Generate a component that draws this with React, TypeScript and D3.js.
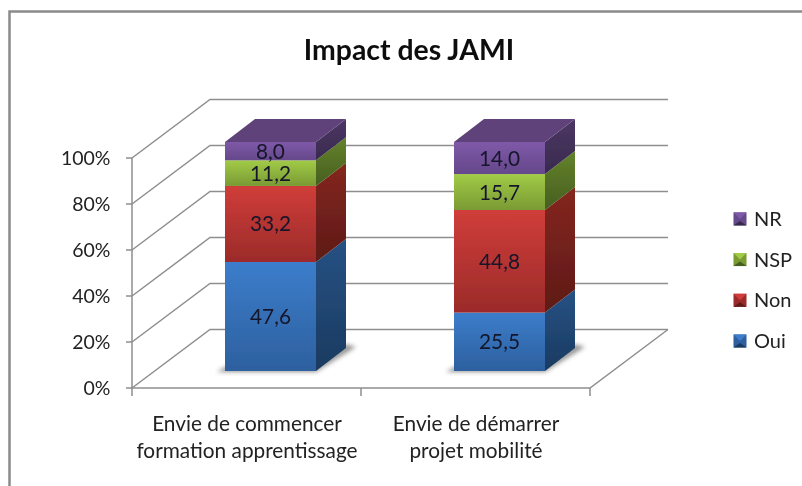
import React from "react";
import * as d3 from "d3";

const title = "Impact des JAMI";
const categories = ["Envie de commencer|formation apprentissage", "Envie de démarrer|projet mobilité"];
const seriesNames = ["Oui", "Non", "NSP", "NR"];
const oui = [47.6, 25.5];
const non = [33.2, 44.8];
const nsp = [11.2, 15.7];
const nr = [8.0, 14.0];
const yTicks = [0, 20, 40, 60, 80, 100];
const frontTop = ["#3c7dcb", "#d03d3a", "#a1cb47", "#7f59a8"];
const frontBottom = ["#2d609f", "#9b2b29", "#7a9a33", "#65488b"];
const sideTop = ["#265284", "#85261f", "#64832b", "#4c3763"];
const sideBottom = ["#1a3a60", "#5e1a17", "#465e20", "#392a4e"];
const topFace = ["#2d5f9a", "#9b2b29", "#7a9a33", "#5f427a"];

const rows = categories.map((c, i) => ({ c, Oui: oui[i], Non: non[i], NSP: nsp[i], NR: nr[i] }));
const stacked = d3.stack<any>().keys(seriesNames)(rows);

const FONT = "Lato, 'Open Sans', sans-serif";
const GRID = "#8e8e8e";
const x0 = 132, x1 = 590, wallDx = 78, wallDy = 58.5;
const x = d3.scaleBand().domain(categories).range([x0, x1]);
const y = d3.scaleLinear().domain([0, 100]).range([388, 158]);
const barWidth = 91, barDx = 30, barDy = 23, barOffsetX = 24, barOffsetY = 17;
const by = d3.scaleLinear().domain([0, 100]).range([388 - barOffsetY, 388 - barOffsetY - 229]);
const line = d3.line();

export default function App() {
  const tickXs = [x0, x1 - x.bandwidth(), x1];
  return (
    <svg width={802} height={486} style={{ position: "absolute", left: 0, top: 0, background: "#fff" }}>
      <defs>
        {seriesNames.map((s, i) => (
          <React.Fragment key={s}>
            <linearGradient id={`f${i}`} x1="0" y1="0" x2="0" y2="1">
              <stop offset="0" stopColor={frontTop[i]} />
              <stop offset="1" stopColor={frontBottom[i]} />
            </linearGradient>
            <linearGradient id={`s${i}`} x1="0" y1="0" x2="0" y2="1">
              <stop offset="0" stopColor={sideTop[i]} />
              <stop offset="1" stopColor={sideBottom[i]} />
            </linearGradient>
          </React.Fragment>
        ))}
        <filter id="shadow" x="-20%" y="-50%" width="140%" height="200%">
          <feGaussianBlur stdDeviation="2" />
        </filter>
        <filter id="soft" x="-5%" y="-5%" width="110%" height="110%">
          <feGaussianBlur stdDeviation="0.35" />
        </filter>
      </defs>

      <g filter="url(#soft)">
        <path d="M9.5,486 V11.5 H802" fill="none" stroke="#8a8a8a" strokeWidth={2.5} />

        <text x={409} y={60} textAnchor="middle" fontFamily={FONT} fontWeight={700} fontSize={28.4} fill="#111">{title}</text>

        {yTicks.map((t) => (
          <path key={t} fill="none" stroke={GRID} strokeWidth={1.5}
            d={line([[x0, y(t)], [x0 + wallDx, y(t) - wallDy], [x0 + wallDx + (x1 - x0), y(t) - wallDy]]) as string} />
        ))}
        <path fill="none" stroke={GRID} strokeWidth={1.5}
          d={line([[x1 + wallDx, y(0) - wallDy], [x1, y(0)], [x0, y(0)], [x0, y(100)]]) as string} />
        {yTicks.map((t) => (
          <g key={t}>
            <line x1={x0 - 6} x2={x0} y1={y(t)} y2={y(t)} stroke={GRID} strokeWidth={1.5} />
            <text x={110.5} y={y(t) + 7} textAnchor="end" fontFamily={FONT} fontSize={19.5} fill="#222">{t}%</text>
          </g>
        ))}
        {tickXs.map((tx) => (
          <line key={tx} x1={tx} x2={tx} y1={388} y2={396} stroke={GRID} strokeWidth={1.5} />
        ))}

        {categories.map((c, ci) => {
          const left = (x(c) as number) + x.bandwidth() / 2 + barOffsetX - barWidth / 2;
          const right = left + barWidth;
          const bottom = by(0);
          return (
            <g key={c}>
              <path filter="url(#shadow)" fill="#555" opacity={0.6}
                d={line([[left - 8, bottom + 1], [right, bottom + 1], [right + barDx + 10, bottom - barDy - 1], [right + barDx, bottom - barDy - 4], [right, bottom - 4], [left, bottom - 4]]) as string} />
              {stacked.map((layer, si) => {
                const yb = by(layer[ci][0]);
                const yt = by(layer[ci][1]);
                return (
                  <g key={si}>
                    <rect x={left} y={yt} width={barWidth} height={yb - yt} fill={`url(#f${si})`} />
                    <path fill={`url(#s${si})`}
                      d={line([[right, yb], [right, yt], [right + barDx, yt - barDy], [right + barDx, yb - barDy]]) + "Z"} />
                    {si === stacked.length - 1 && (
                      <path fill={topFace[si]}
                        d={line([[left, yt], [left + barDx, yt - barDy], [right + barDx, yt - barDy], [right, yt]]) + "Z"} />
                    )}
                    <text x={left + barWidth / 2} y={(yb + yt) / 2 + 7.5} textAnchor="middle" fontFamily={FONT} fontSize={20.8} fill="#15152a">
                      {d3.format(".1f")(layer[ci][1] - layer[ci][0]).replace(".", ",")}
                    </text>
                  </g>
                );
              })}
              {c.split("|").map((part, li) => (
                <text key={li} x={(x(c) as number) + x.bandwidth() / 2 + 0.5} y={431 + li * 27} textAnchor="middle"
                  fontFamily={FONT} fontSize={20.8} fill="#222">{part}</text>
              ))}
            </g>
          );
        })}

        {seriesNames.map((s, i) => {
          const ly = 341 - i * 40.7;
          const a = 733.5, b = 746.5, t = ly - 6.5, u = ly + 6.5;
          return (
            <g key={s}>
              <rect x={a} y={t} width={13} height={13} fill={frontBottom[i]} />
              <path fill={frontTop[i]} d={line([[a, t], [b, t], [a + 6.5, ly]]) + "Z"} />
              <path fill={sideBottom[i]} d={line([[a, u], [b, u], [a + 6.5, ly + 2]]) + "Z"} />
              <text x={754} y={ly + 7} fontFamily={FONT} fontSize={20} fill="#222">{s}</text>
            </g>
          );
        })}
      </g>
    </svg>
  );
}
